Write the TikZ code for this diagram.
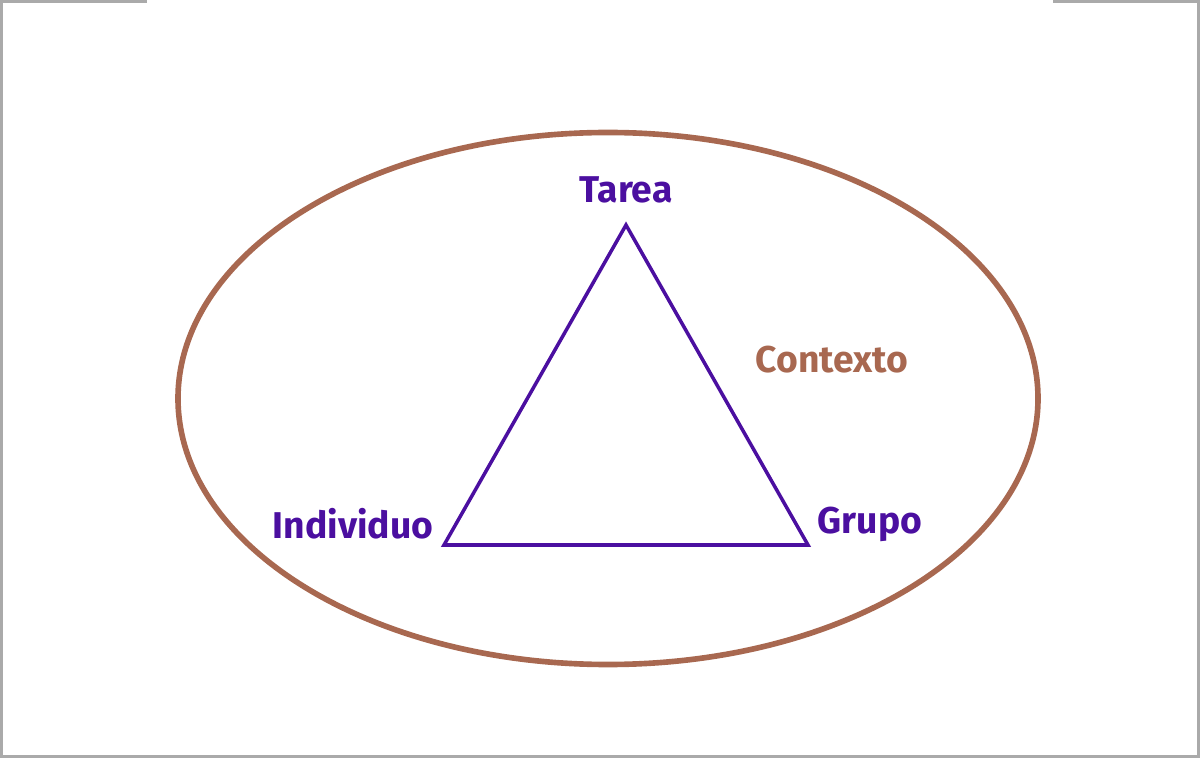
\documentclass[tikz,border=0pt]{standalone}
\usepackage{fontspec}
\setmainfont{Fira Sans}
\definecolor{morado}{RGB}{75,15,160}
\definecolor{marron}{RGB}{168,104,80}
\definecolor{marco}{RGB}{170,170,170}
\begin{document}
\begin{tikzpicture}[x=0.01cm,y=-0.01cm,
    etiqueta/.style={font=\bfseries\fontsize{10.6}{13}\selectfont,inner sep=0pt}]
      \useasboundingbox (0,0) rectangle (1200,758);
      \draw[marco,line width=1.2pt]
        (147,1) -- (1,1) -- (1,757) -- (1199,757) -- (1199,1) -- (1053,1);
      \draw[marron,line width=1.6pt] (608,398.5) ellipse [x radius=430,y radius=266];
      \coordinate (a) at (626,225);
      \coordinate (b) at (444,545);
      \coordinate (c) at (808,545);
      \draw
        (626,190) node[etiqueta,morado] (tarea){Tarea}
        (353,524) node[etiqueta,morado] (individuo){Individuo}
        (870,524) node[etiqueta,morado] (grupo){Grupo}
        (832,360) node[etiqueta,marron] (contexto){Contexto};
      \begin{scope}[morado,line width=1pt,line join=miter]
        \draw (a) -- (b) -- (c) -- cycle;
      \end{scope}
    \end{tikzpicture}
\end{document}
